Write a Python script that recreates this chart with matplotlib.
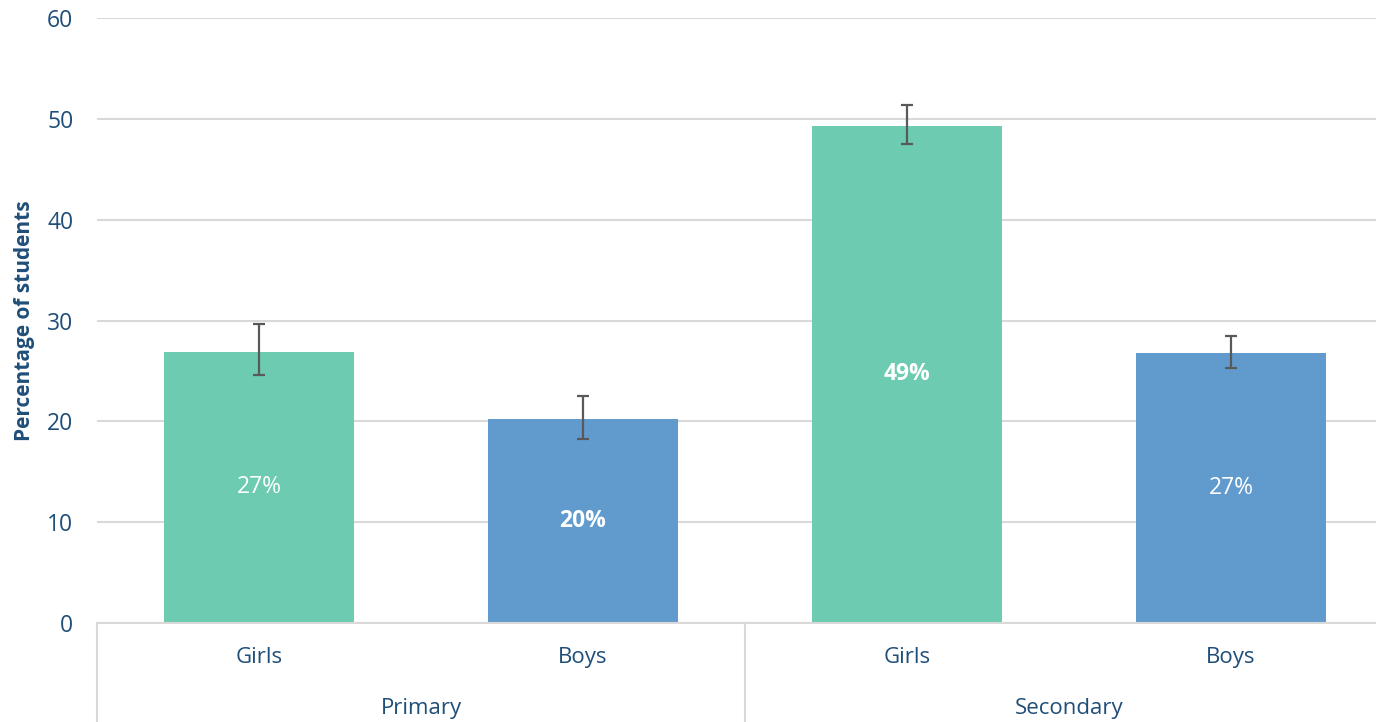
import matplotlib
matplotlib.use("Agg")
import matplotlib.pyplot as plt
import numpy as np

plt.rcParams['font.family'] = ['Open Sans', 'DejaVu Sans']

# data
groups = ["Primary", "Secondary"]
sexes = ["Girls", "Boys", "Girls", "Boys"]
values = [26.9, 20.2, 49.3, 26.8]
err_low = [24.6, 18.2, 47.5, 25.3]
err_high = [29.7, 22.5, 51.4, 28.5]
labels = ["27%", "20%", "49%", "27%"]
label_bold = [False, True, True, False]
colors = ["#6CCBB0", "#619BCD", "#6CCBB0", "#619BCD"]

txt_col = "#1F4E79"
grid_col = "#D9D9D9"

fig = plt.figure(figsize=(13.76, 7.22), dpi=100)
ax = fig.add_axes([97/1376, 99/722, 1296/1376, 605/722])

x = np.arange(len(values))
vals = np.array(values)
yerr = [vals - np.array(err_low), np.array(err_high) - vals]
ax.bar(x, vals, width=0.585, color=colors, zorder=2)
ax.errorbar(x, vals, yerr=yerr, fmt='none', ecolor="#595959",
            elinewidth=1.6, capsize=4, capthick=1.6, zorder=3)

for i in range(len(values)):
    ax.text(x[i], values[i] / 2, labels[i], ha='center', va='center',
            color='white', fontsize=16.5,
            fontweight='bold' if label_bold[i] else 'normal', zorder=4)

ax.set_xlim(-0.5, 3.5)
ax.set_ylim(0, 60)
ax.set_yticks(range(0, 61, 10))
ax.yaxis.grid(True, color=grid_col, linewidth=1.5, zorder=0)
ax.set_axisbelow(True)
for s in ['top', 'right', 'left']:
    ax.spines[s].set_visible(False)
ax.spines['bottom'].set_color(grid_col)
ax.spines['bottom'].set_linewidth(1.5)
ax.tick_params(axis='y', length=0, pad=17, labelsize=16.5, labelcolor=txt_col)
ax.tick_params(axis='x', length=0, pad=0)
ax.set_xticks([])
ax.set_ylabel("Percentage of students", fontsize=15, fontweight='bold',
              color=txt_col, labelpad=9)

# two-level category axis
trans = ax.get_xaxis_transform()
for xb in [-0.5, 1.5]:
    ax.plot([xb, xb], [0, -0.17], transform=trans, color=grid_col,
            linewidth=1.5, clip_on=False)
for i in range(len(sexes)):
    ax.text(x[i], -0.057, sexes[i], transform=trans, ha='center', va='center',
            fontsize=16, color=txt_col)
for j, g in enumerate(groups):
    ax.text(2 * j + 0.5, -0.141, g, transform=trans, ha='center', va='center',
            fontsize=16, color=txt_col)

fig.savefig("out.png", dpi=100)
